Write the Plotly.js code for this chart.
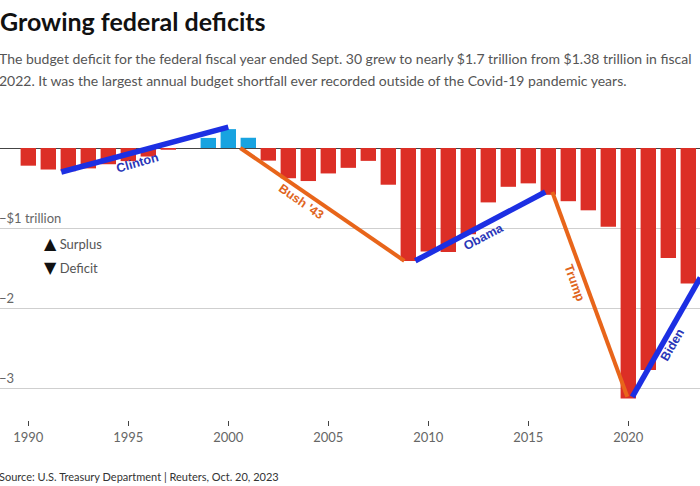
<!DOCTYPE html>
<html>
<head>
<meta charset="utf-8">
<script src="https://cdn.plot.ly/plotly-3.0.1.min.js"></script>
<style>html,body{margin:0;padding:0;background:#fff;}#chart{width:700px;height:486px;}</style>
</head>
<body>
<div id="chart"></div>
<script>
// Fiscal years and budget balance (trillions of dollars; negative = deficit)
const years = [1990,1991,1992,1993,1994,1995,1996,1997,1998,1999,2000,2001,2002,2003,2004,2005,2006,2007,2008,2009,2010,2011,2012,2013,2014,2015,2016,2017,2018,2019,2020,2021,2022,2023];
const balance = [-0.221,-0.269,-0.290,-0.255,-0.203,-0.164,-0.107,-0.022,0.0,0.126,0.236,0.128,-0.158,-0.378,-0.413,-0.318,-0.248,-0.161,-0.459,-1.413,-1.294,-1.300,-1.077,-0.680,-0.485,-0.442,-0.585,-0.665,-0.779,-0.984,-3.132,-2.775,-1.375,-1.695];

// Presidential trend lines (start/end year, start/end balance)
const presidents = ["Clinton","Bush '43","Obama","Trump","Biden"];
const presYears = [[1991.65,2000.0],[2000.6,2008.8],[2009.35,2015.85],[2016.2,2019.95],[2020.2,2023.6]];
const presVals  = [[-0.30,0.26],[0.0,-1.41],[-1.41,-0.55],[-0.55,-3.11],[-3.11,-1.62]];
const presColors = ["#1c2fe3","#e8651a","#1c2fe3","#e8651a","#1c2fe3"];

// Y-axis gridlines and their labels
const tickVals = [-3,-2,-1];
const tickText = ["\u22123","\u22122","\u2212$1 trillion"];
const xTicks = [1990,1995,2000,2005,2010,2015,2020];

const traces = [{
  type:'bar', x: years, y: balance,
  marker:{color: balance.map(v => v >= 0 ? '#18a3e0' : '#dc2f26'), line:{width:0}},
  hoverinfo:'x+y', showlegend:false
}];
presidents.forEach((p,i)=>{
  traces.push({type:'scatter', mode:'lines', x: presYears[i], y: presVals[i],
    line:{color: presColors[i], width: i%2===0 ? 5.5 : 4}, showlegend:false, hoverinfo:'skip'});
});

const labelFont = {family:'Liberation Sans, Arial, sans-serif', size:12.5};
const labelPos = [
  {x:1995.45, y:-0.19, a:-16},
  {x:2003.65, y:-0.68, a:35},
  {x:2012.75, y:-1.11, a:-28},
  {x:2017.3, y:-1.69, a:70},
  {x:2022.2, y:-2.46, a:-60}
];
const labelColors = ["#2a36b8","#e0651e","#2a36b8","#e0651e","#2a36b8"];
const annotations = presidents.map((p,i)=>({
  text:'<b>'+p+'</b>', x:labelPos[i].x, y:labelPos[i].y, xref:'x', yref:'y',
  textangle:labelPos[i].a, showarrow:false, font:Object.assign({color:labelColors[i]}, labelFont)
}));

// y labels sit just above their gridlines, at the left edge
tickVals.forEach((v,i)=>{
  annotations.push({text:tickText[i], x:0, y:v, xref:'paper', yref:'y', xanchor:'left', yanchor:'middle',
    yshift:10, xshift:-3, showarrow:false, font:{family:'Lato, sans-serif', size:13, color:'#666'}});
});

const H = 305, B = 420;
const py = y => (B - y)/H;
const tri = s => '<span style="font-family:DejaVu Sans;color:#111;font-size:16px">'+s+'</span>';
annotations.push(
  {text:'The budget deficit for the federal fiscal year ended Sept. 30 grew to nearly $1.7 trillion from $1.38 trillion in fiscal',
   xref:'paper', yref:'paper', x:0, xshift:-3, y:py(58), xanchor:'left', yanchor:'middle', showarrow:false,
   font:{family:'Lato, sans-serif', size:14, color:'#555'}},
  {text:'2022. It was the largest annual budget shortfall ever recorded outside of the Covid-19 pandemic years.',
   xref:'paper', yref:'paper', x:0, xshift:-3, y:py(80), xanchor:'left', yanchor:'middle', showarrow:false,
   font:{family:'Lato, sans-serif', size:14, color:'#555'}},
  {text:tri('\u25B2')+' Surplus', xref:'paper', yref:'paper', x:42/700, y:py(243),
   xanchor:'left', yanchor:'middle', showarrow:false, font:{family:'Lato, sans-serif', size:13, color:'#555'}},
  {text:tri('\u25BC')+' Deficit', xref:'paper', yref:'paper', x:42/700, y:py(267),
   xanchor:'left', yanchor:'middle', showarrow:false, font:{family:'Lato, sans-serif', size:13, color:'#555'}},
  {text:'Source: U.S. Treasury Department | Reuters, Oct. 20, 2023', xref:'paper', yref:'paper', x:0, xshift:-3, y:py(476),
   xanchor:'left', yanchor:'middle', showarrow:false, font:{family:'Lato, sans-serif', size:11, color:'#333'}}
);

const layout = {
  width:700, height:486,
  margin:{l:0, r:0, t:115, b:66, pad:0},
  paper_bgcolor:'#fff', plot_bgcolor:'#fff',
  title:{text:'<b>Growing federal deficits</b>', x:0, xref:'paper', xanchor:'left',
    y:1-22/486, yref:'container', yanchor:'middle',
    font:{family:'Lato, sans-serif', size:25, color:'#111'}},
  bargap:0.23,
  xaxis:{range:[1988.585, 2023.585], tickvals:xTicks, ticks:'outside', ticklen:5, tickwidth:1,
    tickcolor:'#444', showgrid:false, zeroline:false, showline:false,
    tickfont:{family:'Lato, sans-serif', size:13, color:'#666'}, fixedrange:true},
  yaxis:{range:[-3.4, 0.4125], tickvals:tickVals, showticklabels:false, ticks:'',
    showgrid:true, gridcolor:'#cfcfcf', gridwidth:1,
    zeroline:true, zerolinecolor:'#444', zerolinewidth:1, showline:false, fixedrange:true},
  annotations: annotations,
  showlegend:false
};

Plotly.newPlot('chart', traces, layout, {displayModeBar:false, staticPlot:true});
</script>
</body>
</html>
